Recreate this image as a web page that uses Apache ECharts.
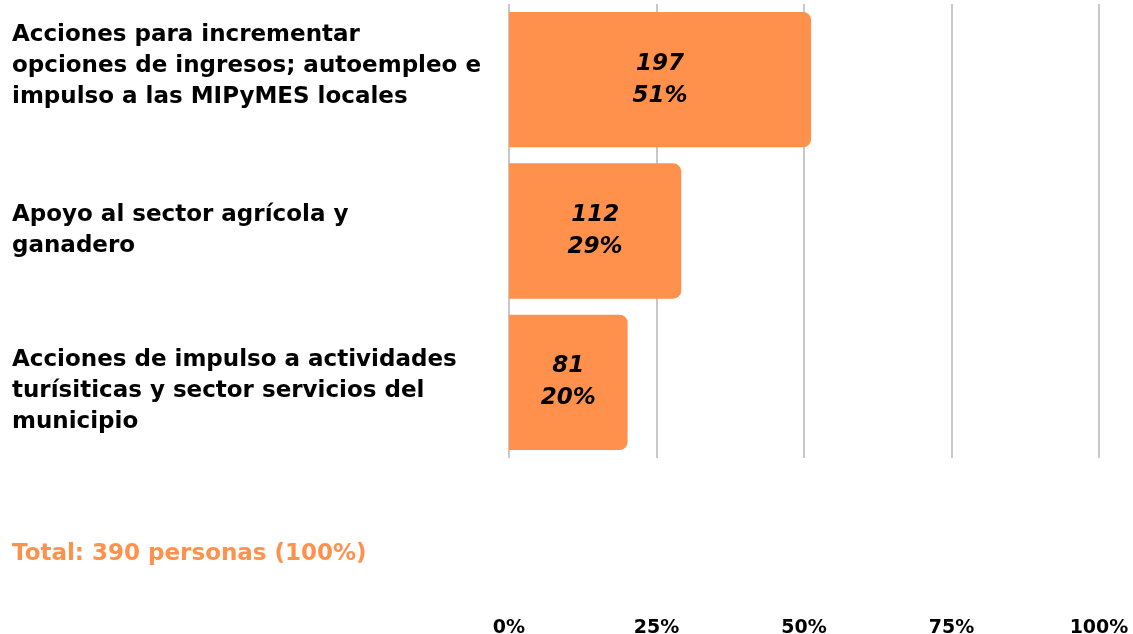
<!DOCTYPE html>
<html>
<head>
<meta charset="utf-8">
<script src="https://cdn.jsdelivr.net/npm/echarts@6/dist/echarts.min.js"></script>
<style>
  html, body { margin: 0; padding: 0; background: #fff; }
  #chart { width: 1133px; height: 634px; }
</style>
</head>
<body>
<div id="chart"></div>
<script>
var categories = [
  'Acciones para incrementar\nopciones de ingresos; autoempleo e\nimpulso a las MIPyMES locales',
  'Apoyo al sector agrícola y\nganadero',
  'Acciones de impulso a actividades\nturísiticas y sector servicios del\nmunicipio'
]
var counts = [197, 112, 81]
var percents = [51.2, 29.2, 20.1]
var pctLabels = [51, 29, 20]
var ticks = [0, 25, 50, 75, 100]

var chart = echarts.init(document.getElementById('chart'))
var font = 'DejaVu Sans'

var option = {
  animation: false,
  grid: { left: 509, right: 34, top: 4, bottom: 176, outerBoundsMode: 'none' },
  xAxis: {
    type: 'value',
    min: 0,
    max: 100,
    interval: 25,
    axisLine: { show: false },
    axisTick: { show: false },
    splitLine: { lineStyle: { color: '#c8c8c8', width: 2 } },
    axisLabel: {
      margin: 161,
      color: '#000',
      fontFamily: font,
      fontWeight: 'bold',
      fontSize: 19,
      formatter: function (v) { return ticks.indexOf(v) >= 0 ? v + '%' : '' }
    }
  },
  yAxis: {
    type: 'category',
    inverse: true,
    data: categories,
    axisLine: { show: false },
    axisTick: { show: false },
    axisLabel: {
      align: 'left',
      margin: 497,
      color: '#000',
      fontFamily: font,
      fontWeight: 'bold',
      fontSize: 23,
      lineHeight: 31,
      // spacer lines nudge the first and last labels like the original
      formatter: function (v, i) {
        if (i === 0) return v + '\n{s| }'
        if (i === 2) return '{t| }\n' + v
        return v
      },
      rich: {
        s: { lineHeight: 28, fontSize: 2 },
        t: { lineHeight: 17, fontSize: 2 }
      }
    }
  },
  series: [{
    type: 'bar',
    data: percents,
    barCategoryGap: '10.6%',
    itemStyle: { color: '#ff914d', borderRadius: [0, 8, 8, 0] },
    label: {
      show: true,
      position: 'inside',
      color: '#000',
      fontFamily: font,
      fontWeight: 'bold',
      fontStyle: 'italic',
      fontSize: 23,
      lineHeight: 32,
      formatter: function (p) { return counts[p.dataIndex] + '\n' + pctLabels[p.dataIndex] + '%' }
    }
  }],
  graphic: [{
    type: 'text',
    left: 12,
    top: 543,
    style: {
      text: 'Total: 390 personas (100%)',
      fill: '#ff914d',
      font: 'bold 23px "DejaVu Sans"'
    }
  }]
}
chart.setOption(option)
</script>
</body>
</html>
